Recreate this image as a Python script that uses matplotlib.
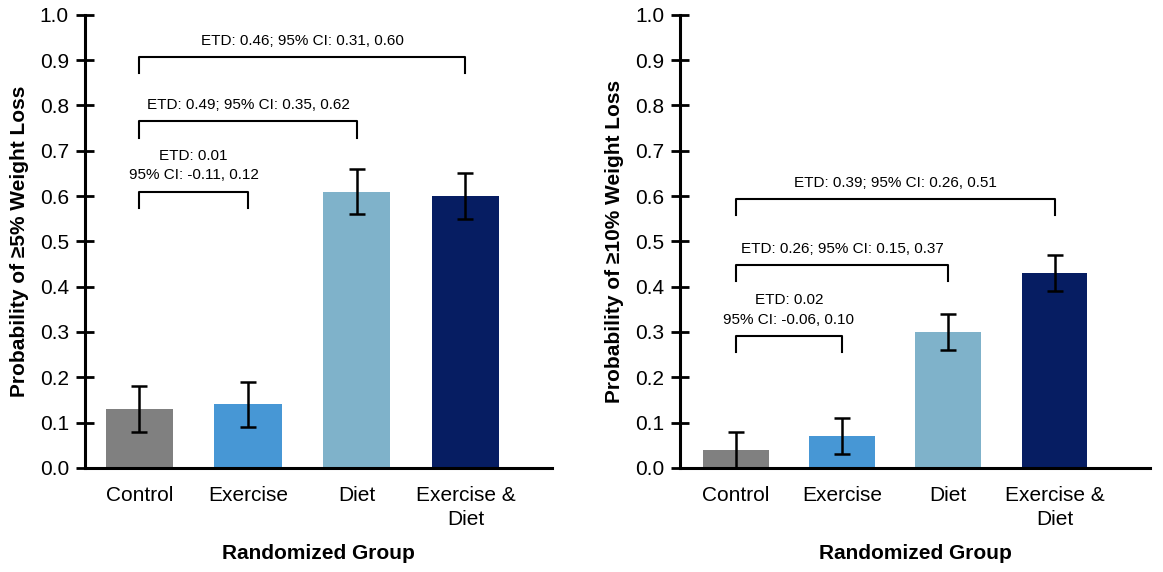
import matplotlib
matplotlib.use('Agg')
import matplotlib.pyplot as plt

plt.rcParams['font.family'] = ['Liberation Sans', 'DejaVu Sans']

# Data
groups = ['Control', 'Exercise', 'Diet', 'Exercise &\nDiet']
colors = ['#808080', '#4797d5', '#7fb2ca', '#061d62']

p5 = [0.13, 0.14, 0.61, 0.60]
p5_lo = [0.08, 0.09, 0.56, 0.55]
p5_hi = [0.18, 0.19, 0.66, 0.65]

p10 = [0.04, 0.07, 0.30, 0.43]
p10_lo = [0.00, 0.03, 0.26, 0.39]
p10_hi = [0.08, 0.11, 0.34, 0.47]

# brackets: (from group, to group, top, text)
br5 = [
    (0, 1, 0.61, 'ETD: 0.01\n95% CI: -0.11, 0.12'),
    (0, 2, 0.765, 'ETD: 0.49; 95% CI: 0.35, 0.62'),
    (0, 3, 0.907, 'ETD: 0.46; 95% CI: 0.31, 0.60'),
]
br10 = [
    (0, 1, 0.292, 'ETD: 0.02\n95% CI: -0.06, 0.10'),
    (0, 2, 0.448, 'ETD: 0.26; 95% CI: 0.15, 0.37'),
    (0, 3, 0.594, 'ETD: 0.39; 95% CI: 0.26, 0.51'),
]

fig = plt.figure(figsize=(11.63, 5.72), dpi=100)
ax1 = fig.add_axes([0.073, 0.182, 0.402, 0.792])
ax2 = fig.add_axes([0.585, 0.182, 0.404, 0.792])


def draw(ax, vals, lo, hi, brackets, ylabel, xlim):
    x = list(range(len(groups)))
    err = [[v - l for v, l in zip(vals, lo)], [h - v for v, h in zip(vals, hi)]]
    ax.bar(x, vals, width=0.62, color=colors, zorder=2)
    ax.errorbar(x, vals, yerr=err, fmt='none', ecolor='black',
                elinewidth=1.8, capsize=6, capthick=1.8, zorder=3)
    for a, b, top, txt in brackets:
        leg = 0.036
        ax.plot([a, a, b, b], [top - leg, top, top, top - leg],
                color='black', lw=1.5, zorder=3)
        ax.text((a + b) / 2, top + 0.02, txt, ha='center', va='bottom',
                fontsize=11, linespacing=1.5)
    ax.set_ylim(0, 1.0)
    ax.set_xlim(*xlim)
    ax.set_yticks([i / 10 for i in range(11)])
    ax.set_yticklabels([f'{i / 10:.1f}' for i in range(11)])
    ax.set_xticks(x)
    ax.set_xticklabels(groups, fontsize=15, linespacing=1.35)
    ax.tick_params(axis='y', direction='inout', length=13, width=2,
                   labelsize=15, pad=5)
    ax.tick_params(axis='x', length=0, pad=13)
    for s in ['top', 'right']:
        ax.spines[s].set_visible(False)
    for s in ['left', 'bottom']:
        ax.spines[s].set_linewidth(2.2)
    ax.set_ylabel(ylabel, fontsize=15, fontweight='bold', labelpad=8)
    ax.set_xlabel('Randomized Group', fontsize=15, fontweight='bold', labelpad=11)


draw(ax1, p5, p5_lo, p5_hi, br5, 'Probability of ≥5% Weight Loss', (-0.5, 3.8))
draw(ax2, p10, p10_lo, p10_hi, br10, 'Probability of ≥10% Weight Loss', (-0.52, 3.9))

fig.savefig('out.png', dpi=100)
